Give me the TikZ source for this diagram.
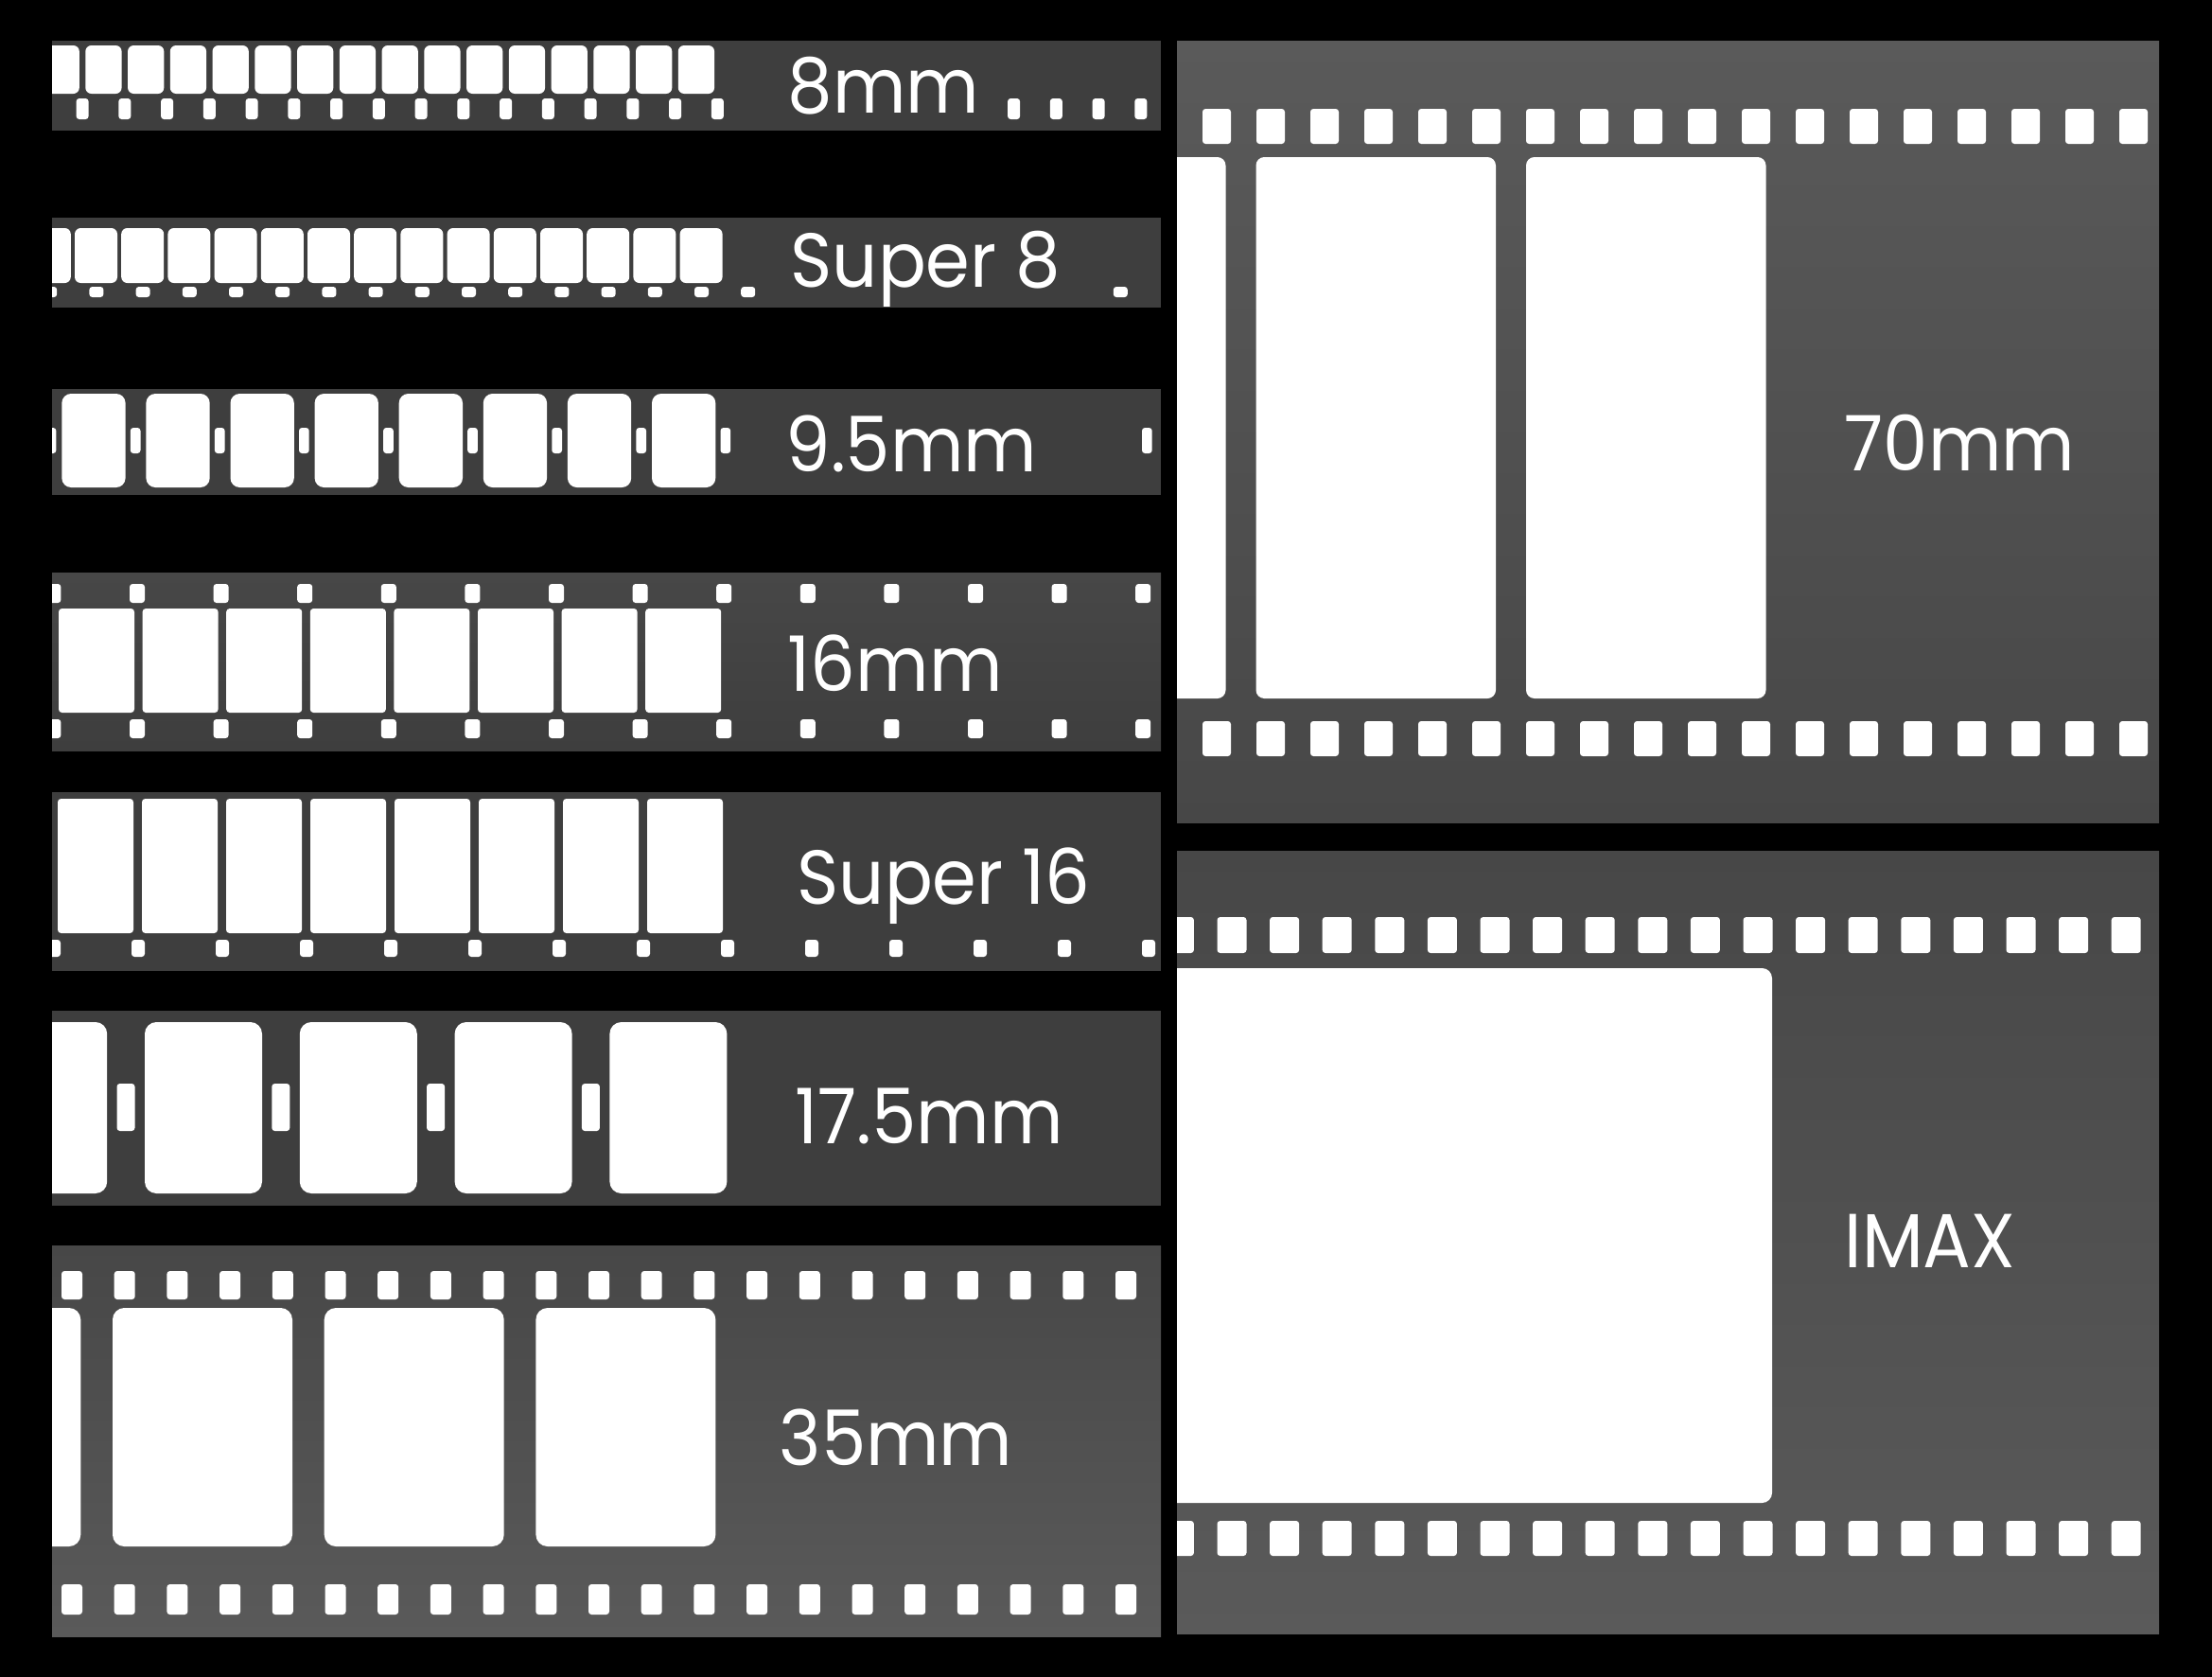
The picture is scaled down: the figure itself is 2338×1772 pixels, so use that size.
\documentclass[tikz,border=0pt]{standalone}
\usepackage{fontspec}
\setmainfont{Poppins}[FakeStretch=0.93]
\usepackage{tikz}
\definecolor{filmgrey}{HTML}{3E3E3E}
\definecolor{filmlite}{HTML}{5A5A5A}
\definecolor{filmmid}{HTML}{474747}

\begin{document}
\begin{tikzpicture}[x=0.01cm, y=-0.01cm,
    stripbg/.style={fill=filmgrey},
    gate/.style={fill=white, rounded corners=#1},
    gate/.default=1.8pt,
    sprocket/.style={fill=white, rounded corners=0.9pt},
    gauge/.style={text=white, anchor=base west, inner sep=0pt,
                  font=\fontsize{23}{27}\selectfont}]
    \useasboundingbox (0,0) rectangle (2338,1772);
    \fill[black] (0,0) rectangle (2338,1772);

    % 8mm
    \begin{scope}
        \clip (55,43) rectangle (1227,138);
        \fill[stripbg] (55,43) rectangle (1227,138);
        \foreach \k in {-1,...,14}
            \fill[gate] ({90.3+\k*44.75},48) rectangle ++(38.3,51);
        \foreach \k in {0,...,15,22,23,24,25}
            \fill[sprocket] ({80.6+\k*44.75},104) rectangle ++(13,22);
    \end{scope}
    \node[gauge] (g8) at (832,119) {8mm};

    % Super 8
    \begin{scope}
        \clip (55,230) rectangle (1227,325);
        \fill[stripbg] (55,230) rectangle (1227,325);
        \foreach \k in {-1,...,13}
            \fill[gate] ({79+\k*49.2},241) rectangle ++(45,58);
        \foreach \k in {-1,...,14,22}
            \fill[sprocket] ({94.4+\k*49.2},303) rectangle ++(15,11);
    \end{scope}
    \node[gauge] (gs8) at (835,303) {Super 8};

    % 9.5mm
    \begin{scope}
        \clip (55,411) rectangle (1227,523);
        \fill[stripbg] (55,411) rectangle (1227,523);
        \foreach \k in {0,...,7}
            \fill[gate=2.8pt] ({65.3+\k*89.1},416) rectangle ++(67.3,99);
        \foreach \k in {-1,...,7,12}
            \fill[sprocket] ({137.8+\k*89.1},452) rectangle ++(10.7,27);
    \end{scope}
    \node[gauge] (g95) at (830,498) {9.5mm};

    % 16mm
    \begin{scope}
        \clip (55,605) rectangle (1227,793);
        \shade[top color=filmmid, bottom color=filmgrey] (55,605) rectangle (1227,793);
        \foreach \k in {0,...,7}
            \fill[gate=1pt] ({62+\k*88.6},643) rectangle ++(80,110);
        \foreach \k in {-1,...,12} {
            \fill[sprocket] ({137+\k*88.6},617) rectangle ++(16,20);
            \fill[sprocket] ({137+\k*88.6},760) rectangle ++(16,20);
        }
    \end{scope}
    \node[gauge] (g16) at (832,730) {16mm};

    % Super 16
    \begin{scope}
        \clip (55,837) rectangle (1227,1026);
        \fill[stripbg] (55,837) rectangle (1227,1026);
        \foreach \k in {0,...,7}
            \fill[gate=1pt] ({61+\k*89},844) rectangle ++(80,142);
        \foreach \k in {-1,...,12}
            \fill[sprocket] ({139+\k*89},993) rectangle ++(14,18);
    \end{scope}
    \node[gauge] (gs16) at (842,955) {Super 16};

    % 17.5mm
    \begin{scope}
        \clip (55,1068) rectangle (1227,1274);
        \fill[stripbg] (55,1068) rectangle (1227,1274);
        \foreach \k in {-1,...,3}
            \fill[gate=3.5pt] ({153+\k*163.8},1080) rectangle ++(124,181);
        \foreach \k in {0,...,3}
            \fill[sprocket] ({123.5+\k*163.8},1145) rectangle ++(19,50);
    \end{scope}
    \node[gauge] (g175) at (840,1208) {17.5mm};

    % 35mm
    \begin{scope}
        \clip (55,1316) rectangle (1227,1729);
        \shade[top color=filmmid, middle color=filmgrey, bottom color=filmlite]
            (55,1316) rectangle (1227,1729);
        \foreach \k in {-1,...,2}
            \fill[gate=3.5pt] ({119+\k*223.7},1382) rectangle ++(190,252);
        \foreach \k in {0,...,20} {
            \fill[sprocket] ({65+\k*55.7},1343) rectangle ++(22,30);
            \fill[sprocket] ({65+\k*55.7},1674) rectangle ++(22,32);
        }
    \end{scope}
    \node[gauge] (g35) at (823,1548) {35mm};

    % 70mm
    \begin{scope}
        \clip (1244,43) rectangle (2282,869);
        \shade[top color=filmlite, middle color=filmgrey, bottom color=filmmid]
            (1244,43) rectangle (2282,869);
        \foreach \k in {-1,...,1}
            \fill[gate=2.5pt] ({1327.5+\k*285.5},166) rectangle ++(253.5,572);
        \foreach \k in {0,...,17} {
            \fill[sprocket] ({1271+\k*57},115) rectangle ++(30,37);
            \fill[sprocket] ({1271+\k*57},762) rectangle ++(30,37);
        }
    \end{scope}
    \node[gauge] (g70) at (1949,497) {70mm};

    % IMAX
    \begin{scope}
        \clip (1244,899) rectangle (2282,1726);
        \shade[top color=filmmid, middle color=filmgrey, bottom color=filmlite]
            (1244,899) rectangle (2282,1726);
        \fill[gate=3pt] (1200,1023) rectangle (1873,1588);
        \foreach \k in {-1,...,17} {
            \fill[sprocket] ({1286.5+\k*55.6},969) rectangle ++(31,38);
            \fill[sprocket] ({1286.5+\k*55.6},1607) rectangle ++(31,37);
        }
    \end{scope}
    \node[gauge] (gimax) at (1949,1339) {IMAX};
\end{tikzpicture}
\end{document}
